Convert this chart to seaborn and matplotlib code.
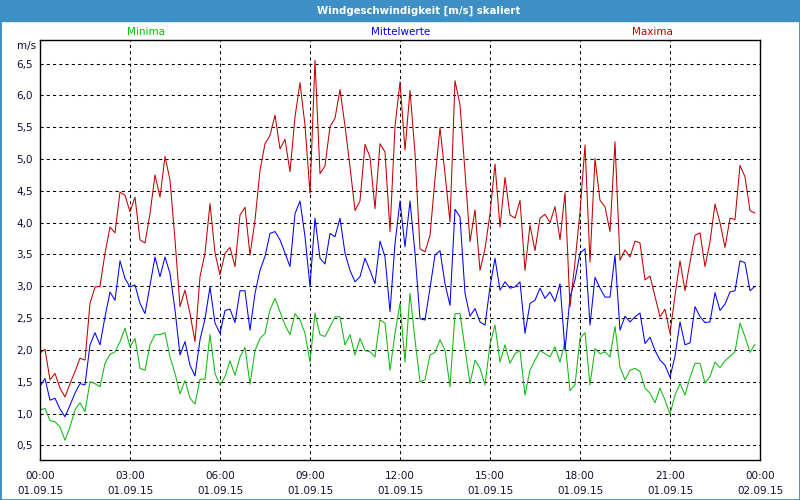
import pandas as pd
import matplotlib.pyplot as plt
import matplotlib.dates as mdates
from matplotlib.patches import Rectangle
from matplotlib.ticker import FuncFormatter, MultipleLocator
import seaborn as sns

# === DATA (10-minute values, 01.09.15) ===
times = pd.date_range("2015-09-01 00:00", periods=144, freq="10min")

maxima = [
    1.95, 2.01, 1.53, 1.63, 1.40, 1.26, 1.47, 1.66, 1.87, 1.84, 2.73, 2.99,
    3.00, 3.52, 3.93, 3.84, 4.48, 4.43, 4.17, 4.40, 3.73, 3.68, 4.14, 4.75,
    4.40, 5.04, 4.67, 3.73, 2.68, 2.94, 2.57, 2.13, 3.15, 3.52, 4.30, 3.52,
    3.18, 3.52, 3.61, 3.31, 4.12, 4.24, 3.49, 4.04, 4.82, 5.24, 5.37, 5.69,
    5.16, 5.31, 4.80, 5.66, 6.20, 5.53, 4.46, 6.55, 4.77, 4.89, 5.51, 5.64,
    6.09, 5.52, 4.88, 4.19, 4.34, 5.23, 5.03, 4.22, 5.24, 5.11, 3.86, 5.51,
    6.21, 5.14, 6.08, 5.09, 3.59, 3.54, 3.80, 4.69, 5.49, 4.77, 4.01, 6.23,
    5.85, 4.80, 3.70, 4.20, 3.25, 3.59, 4.14, 4.92, 3.93, 4.71, 4.12, 4.07,
    4.35, 3.25, 3.96, 3.56, 4.07, 4.13, 4.00, 4.25, 3.73, 4.47, 2.68, 3.38,
    4.17, 5.22, 3.38, 5.01, 4.35, 4.25, 3.86, 5.27, 3.41, 3.57, 3.46, 3.71,
    3.68, 3.10, 3.16, 2.84, 2.52, 2.64, 2.26, 2.86, 3.40, 2.93, 3.38, 3.80,
    3.84, 3.31, 3.70, 4.29, 4.00, 3.61, 4.07, 4.05, 4.90, 4.72, 4.19, 4.15,
]

mittel = [
    1.43, 1.55, 1.21, 1.24, 1.07, 0.95, 1.13, 1.32, 1.47, 1.45, 2.08, 2.27,
    2.08, 2.52, 2.91, 2.78, 3.40, 3.12, 2.99, 3.02, 2.73, 2.57, 3.02, 3.46,
    3.15, 3.46, 3.20, 2.63, 1.92, 2.13, 1.76, 1.59, 2.16, 2.49, 2.99, 2.42,
    2.26, 2.62, 2.64, 2.43, 2.93, 2.93, 2.31, 2.89, 3.25, 3.47, 3.83, 3.86,
    3.73, 3.52, 3.31, 4.14, 4.34, 3.78, 3.00, 4.07, 3.44, 3.35, 3.83, 3.78,
    4.07, 3.52, 3.25, 3.07, 3.15, 3.44, 3.25, 3.04, 3.71, 3.46, 2.60, 3.67,
    4.34, 3.62, 4.34, 3.52, 2.49, 2.47, 2.97, 3.49, 3.56, 3.04, 2.70, 4.21,
    4.09, 2.89, 2.53, 2.65, 2.44, 2.39, 2.99, 3.44, 2.94, 3.07, 2.97, 2.99,
    3.07, 2.26, 2.73, 2.78, 2.97, 2.81, 2.91, 2.76, 3.04, 1.99, 2.83, 3.10,
    3.52, 3.59, 2.39, 3.14, 2.97, 2.83, 2.83, 3.49, 2.31, 2.53, 2.44, 2.52,
    2.58, 2.10, 2.20, 1.99, 1.84, 1.76, 1.57, 1.90, 2.44, 2.08, 2.11, 2.68,
    2.52, 2.43, 2.44, 2.90, 2.62, 2.72, 2.91, 2.93, 3.40, 3.37, 2.93, 3.00,
]

minima = [
    1.06, 1.08, 0.89, 0.87, 0.79, 0.58, 0.79, 1.06, 1.17, 1.03, 1.50, 1.47,
    1.42, 1.79, 1.93, 1.97, 2.13, 2.34, 2.05, 2.18, 1.71, 1.68, 2.08, 2.24,
    2.24, 2.27, 1.89, 1.63, 1.31, 1.52, 1.24, 1.15, 1.54, 1.54, 2.24, 1.63,
    1.45, 1.58, 1.83, 1.60, 1.89, 2.04, 1.46, 1.99, 2.18, 2.26, 2.63, 2.81,
    2.60, 2.39, 2.24, 2.57, 2.47, 2.26, 1.81, 2.58, 2.24, 2.21, 2.36, 2.52,
    2.52, 2.08, 2.24, 1.92, 2.18, 1.99, 1.97, 1.89, 2.47, 2.42, 1.68, 2.26,
    2.73, 1.81, 2.89, 2.16, 1.50, 1.53, 1.92, 1.96, 2.16, 1.99, 1.42, 2.57,
    2.57, 2.02, 1.47, 1.84, 1.71, 1.45, 2.09, 2.39, 1.81, 2.08, 1.79, 1.94,
    1.99, 1.29, 1.68, 1.84, 1.99, 1.94, 1.89, 2.05, 1.81, 2.13, 1.36, 1.45,
    2.18, 2.27, 1.45, 2.02, 1.94, 1.97, 1.89, 2.37, 1.73, 1.53, 1.68, 1.71,
    1.66, 1.40, 1.32, 1.17, 1.40, 1.21, 0.99, 1.29, 1.47, 1.29, 1.57, 1.79,
    1.79, 1.48, 1.58, 1.81, 1.72, 1.83, 1.90, 1.97, 2.42, 2.21, 1.96, 2.09,
]

series_names = ["Minima", "Mittelwerte", "Maxima"]
line_colors = ["#10b810", "#0000ff", "#c00000"]
text_colors = ["#00c800", "#0000ff", "#c00000"]
title_text = "Windgeschwindigkeit [m/s] skaliert"

df = pd.DataFrame({"Zeit": times, "Minima": minima,
                   "Mittelwerte": mittel, "Maxima": maxima})
df_long = df.melt(id_vars="Zeit", var_name="Reihe", value_name="Wert")

# === PLOT ===
sns.set_style("white")
plt.rcParams["font.family"] = ["DejaVu Sans"]

fig = plt.figure(figsize=(8, 5), dpi=100)
ax = fig.add_axes([40 / 800, 40 / 500, 720 / 800, 420 / 500])

sns.lineplot(data=df_long, x="Zeit", y="Wert", hue="Reihe",
             hue_order=series_names, palette=line_colors,
             linewidth=0.75, legend=False, ax=ax)

ax.set_xlim(pd.Timestamp("2015-09-01 00:00"), pd.Timestamp("2015-09-02 00:00"))
ax.set_ylim(0.27, 6.87)

# grid
ax.yaxis.set_major_locator(MultipleLocator(0.5))
ax.xaxis.set_major_locator(mdates.HourLocator(byhour=range(0, 24, 3)))
ax.xaxis.set_minor_locator(mdates.HourLocator())
ax.xaxis.set_major_formatter(mdates.DateFormatter("%H:%M\n%d.%m.%y"))
ax.yaxis.set_major_formatter(FuncFormatter(
    lambda v, p: f"{v:.1f}".replace(".", ",") if 0.4 < v < 6.6 else ""))
ax.grid(True, which="major", color="black", linestyle=(0, (3, 3)), linewidth=0.75)

ax.tick_params(axis="y", length=0, pad=5, labelsize=7.5, labelcolor="#101030")
ax.tick_params(axis="x", which="both", length=4, width=0.8, color="black",
               direction="out", pad=4, labelsize=7.5, labelcolor="#101030")
for lab in ax.get_xticklabels():
    lab.set_linespacing(1.65)
ax.set_xlabel("")
ax.set_ylabel("")

for s in ax.spines.values():
    s.set_visible(True)
    s.set_color("black")
    s.set_linewidth(1)

# title bar + frame
fig.patches.append(Rectangle((0, 1 - 21 / 500), 1, 21 / 500,
                             transform=fig.transFigure, color="#3d8fc6", zorder=0))
fig.patches.append(Rectangle((0, 0), 1, 1, transform=fig.transFigure,
                             fill=False, edgecolor="#3d8fc6", linewidth=2))
fig.text(419 / 800, 1 - 10.5 / 500, title_text, ha="center", va="center",
         color="white", fontsize=7.3, fontweight="bold")

# series labels
label_x = [146, 401, 652]
for name, c, xp in zip(series_names, text_colors, label_x):
    fig.text(xp / 800, 1 - 32 / 500, name, ha="center", va="center",
             color=c, fontsize=7.5)
fig.text(36 / 800, 1 - 46 / 500, "m/s", ha="right", va="center",
         fontsize=7.5, color="#101030")

fig.savefig("out.png", dpi=100)
